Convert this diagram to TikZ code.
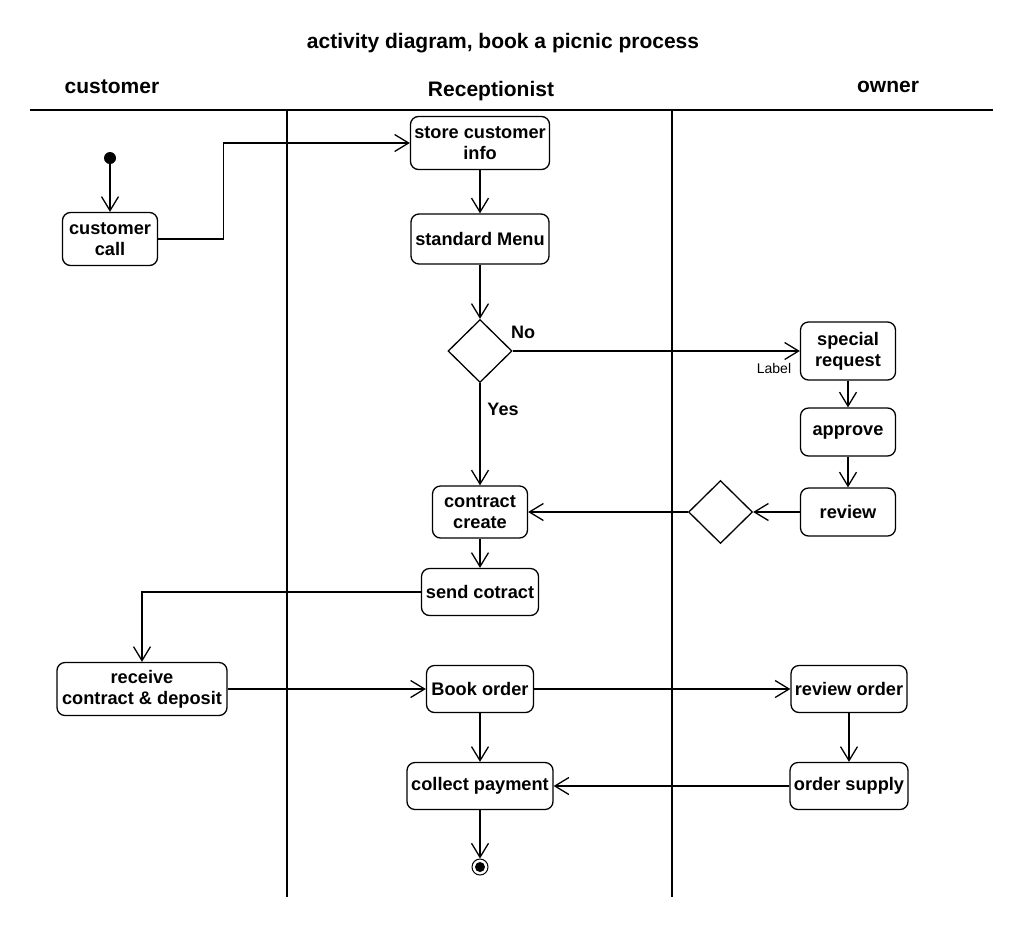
\documentclass[tikz,border=0pt]{standalone}
\usepackage{fontspec}
\setmainfont{Liberation Sans}
\usetikzlibrary{shapes.geometric,arrows.meta}
\begin{document}
\begin{tikzpicture}[x=1pt,y=-1pt,
  act/.style={draw, rounded corners=8pt, line width=1.3pt, align=center, inner sep=0pt,
    font=\bfseries\fontsize{18.2}{21}\selectfont},
  dec/.style={draw, diamond, line width=1.3pt, inner sep=0pt, minimum width=64pt, minimum height=63pt},
  flow/.style={line width=1.3pt, -{Straight Barb[length=14pt,width=17pt,line width=1.3pt]}},
  lane/.style={line width=2.6pt},
  lanehead/.style={font=\bfseries\fontsize{21}{25}\selectfont},
  guard/.style={font=\bfseries\fontsize{18}{21}\selectfont}]
\useasboundingbox (0,0) rectangle (1024,927);
\fill[white] (0,0) rectangle (1024,927);

% title and lanes
\node[lanehead] (title) at (503,43) {activity diagram, book a picnic process};
\node[lanehead] (hcust) at (112,87) {customer};
\node[lanehead] (hrec) at (491,91) {Receptionist};
\node[lanehead] (hown) at (888,87) {owner};
\coordinate (hl) at (30,110);
\coordinate (hr) at (993,110);
\draw[lane] (hl) -- (hr);
\coordinate (l1t) at (287,110);
\coordinate (l1b) at (287,897);
\coordinate (l2t) at (672,110);
\coordinate (l2b) at (672,897);
\draw[lane] (l1t) -- (l1b);
\draw[lane] (l2t) -- (l2b);

% nodes
\node[circle, fill, minimum size=12pt, inner sep=0pt] (init) at (110,158) {};
\node[act, minimum width=95pt, minimum height=53pt] (call) at (110,239) {customer\\call};
\node[act, minimum width=139pt, minimum height=53pt] (store) at (480,143) {store customer\\info};
\node[act, minimum width=138pt, minimum height=50pt] (menu) at (480,239) {standard Menu};
\node[dec] (d1) at (480,351) {};
\node[act, minimum width=95pt, minimum height=58pt] (special) at (848,351) {special\\request};
\node[act, minimum width=95pt, minimum height=48pt] (approve) at (848,432) {approve};
\node[act, minimum width=95pt, minimum height=48pt] (review) at (848,512) {review};
\node[dec] (d2) at (720.5,512) {};
\node[act, minimum width=95pt, minimum height=52pt] (contract) at (480,512) {contract\\create};
\node[act, minimum width=117pt, minimum height=47pt] (send) at (480,592) {send cotract};
\node[act, minimum width=170pt, minimum height=53pt] (receive) at (142,689) {receive\\contract \& deposit};
\node[act, minimum width=107pt, minimum height=47pt] (book) at (480,689) {Book order};
\node[act, minimum width=116pt, minimum height=47pt] (rorder) at (849,689) {review order};
\node[act, minimum width=146pt, minimum height=47pt] (collect) at (480,786) {collect payment};
\node[act, minimum width=118pt, minimum height=47pt] (supply) at (849,786) {order supply};
\node[circle, draw, line width=1pt, minimum size=16pt, inner sep=0pt] (final) at (480,867) {};
\fill (final.center) circle (5pt);

% connectors
\draw[flow] (init) -- (call);
\draw[flow] (call.east) -- ++(65,0) |- (store.west);
\draw[flow] (store) -- (menu);
\draw[flow] (menu) -- (d1.north);
\draw[flow] (d1.east) -- (special.west);
\node[guard] (no) at (523,332) {No};
\node[font=\fontsize{14}{16}\selectfont] (lbl) at (774,368) {Label};
\draw[flow] (d1.south) -- (contract.north);
\node[guard] (yes) at (503,409) {Yes};
\draw[flow] (special) -- (approve);
\draw[flow] (approve) -- (review);
\draw[flow] (review.west) -- (d2.east);
\draw[flow] (d2.west) -- (contract.east);
\draw[flow] (contract) -- (send);
\draw[flow] (send.west) -| (receive.north);
\draw[flow] (receive.east) -- (book.west);
\draw[flow] (book.east) -- (rorder.west);
\draw[flow] (book) -- (collect);
\draw[flow] (rorder) -- (supply);
\draw[flow] (supply.west) -- (collect.east);
\draw[flow] (collect) -- (final.north);
\end{tikzpicture}
\end{document}
